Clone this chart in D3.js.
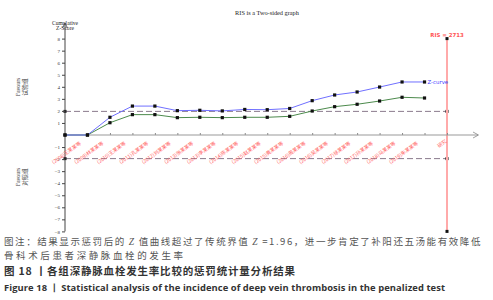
<!DOCTYPE html>
<html>
<head>
<meta charset="utf-8">
<script src="https://cdn.jsdelivr.net/npm/d3@7"></script>
<style>
  body { margin: 0; background: #fff; }
  svg { display: block; }
</style>
</head>
<body>
<div id="chart"></div>
<script>
// study labels along the x axis (index 1..16), last column label at RIS
const studyLabels = ["(2008)王某某等", "(2009)林某某等", "(2010)王某某等", "(2011)孔某某等",
    "(2012)刘某某等", "(2013)张某某等", "(2013)李某某等", "(2014)陈某某等",
    "(2015)赵某某等", "(2015)黄某某等", "(2016)周某某等", "(2016)吴某某等",
    "(2017)徐某某等", "(2017)孙某某等", "(2018)马某某等", "(2019)朱某某等"];
const lastLabel = "研究";

// cumulative z-curve values, index 0 = origin
const zCurve = [0, 0, 1.47, 2.4, 2.4, 2.02, 2.05, 2.0, 2.12, 2.1, 2.2, 2.85, 3.32, 3.57, 3.98, 4.4, 4.4];
const penalized = [0, 0, 1.02, 1.69, 1.69, 1.44, 1.47, 1.44, 1.47, 1.47, 1.55, 1.99, 2.35, 2.55, 2.82, 3.13, 3.07];

const risIndex = 17;
const risLabel = "RIS = 2713";
const boundary = 1.96;
const yTicks = [-8, -7, -6, -5, -4, -3, -2, -1, 1, 2, 3, 4, 5, 6, 7, 8];

// caption pieces: [text, italic]
const captionLine1 = [["图注：结果显示惩罚后的", false], ["Z", true], ["值曲线超过了传统界值", false],
    ["Z", true], ["=1.96，进一步肯定了补阳还五汤能有效降低", false]];
const captionLine2 = "骨科术后患者深静脉血栓的发生率";
const figTitleCn = "图 18 丨各组深静脉血栓发生率比较的惩罚统计量分析结果";
const figTitleEn = "Figure 18 丨 Statistical analysis of the incidence of deep vein thrombosis in the penalized test";

const width = 493, height = 300;
const svg = d3.select("#chart").append("svg")
    .attr("width", width).attr("height", height);

const x = d3.scaleLinear().domain([0, 17]).range([65, 447]);
const y = d3.scaleLinear().domain([-8, 8]).range([231.4, 38.6]);
const serif = "'Liberation Serif', 'DejaVu Serif', serif";

// title
svg.append("text")
    .attr("x", 267).attr("y", 14.5)
    .attr("text-anchor", "middle")
    .style("font-family", serif).style("font-size", "6.3px").style("fill", "#222")
    .text("RIS is a Two-sided graph");

// y axis title
svg.append("text")
    .attr("x", 65).attr("y", 24.5)
    .attr("text-anchor", "middle")
    .style("font-family", serif).style("font-size", "5.6px").style("fill", "#222")
    .selectAll("tspan").data(["Cumulative", "Z-Score"]).join("tspan")
    .attr("x", 65).attr("dy", (d, i) => i ? 5.5 : 0)
    .text(d => d);

// favours labels
[["Favours", "试验组", 87], ["Favours", "对照组", 177]].forEach(([a, b, cy]) => {
    const g = svg.append("g").attr("transform", `translate(20,${cy}) rotate(-90)`);
    g.append("text").attr("text-anchor", "middle").attr("y", 0)
        .style("font-family", serif).style("font-size", "5.8px").style("fill", "#444").text(a);
    g.append("text").attr("text-anchor", "middle").attr("y", 7)
        .style("font-family", "'Noto Sans CJK SC'").style("font-size", "5.8px").style("fill", "#444").text(b);
});

// boundaries
[boundary, -boundary].forEach(v => {
    svg.append("line")
        .attr("x1", x(0)).attr("x2", x(risIndex))
        .attr("y1", y(v)).attr("y2", y(v))
        .attr("stroke", "#8a7a8c").attr("stroke-width", 1)
        .attr("stroke-dasharray", "6,3");
    [0, risIndex].forEach(i => {
        svg.append("rect")
            .attr("x", x(i) - 1.5).attr("y", y(v) - 1.5)
            .attr("width", 3).attr("height", 3).attr("fill", "#111");
    });
});

// RIS line
svg.append("line")
    .attr("x1", x(risIndex)).attr("x2", x(risIndex))
    .attr("y1", y(8)).attr("y2", y(-8))
    .attr("stroke", "#ffaaaa").attr("stroke-width", 2);
[8, -8].forEach(v => {
    svg.append("rect")
        .attr("x", x(risIndex) - 1.5).attr("y", y(v) - 1.5)
        .attr("width", 3).attr("height", 3).attr("fill", "#111");
});
svg.append("text")
    .attr("x", x(risIndex)).attr("y", 36.5)
    .attr("text-anchor", "middle")
    .style("font-family", "'DejaVu Sans', sans-serif").style("font-size", "5.4px")
    .style("font-weight", "bold").style("fill", "#ff5555")
    .text(risLabel);

// y axis
const yAxis = svg.append("g")
    .attr("transform", `translate(${x(0)},0)`)
    .call(d3.axisLeft(y).tickValues(yTicks).tickSize(3).tickSizeOuter(0)
        .tickFormat(d => d < 0 ? "\u2212" + Math.abs(d) : d));
yAxis.select(".domain").remove();
yAxis.selectAll("line").attr("stroke", "#444");
yAxis.selectAll("text").attr("x", -5)
    .style("font-family", serif).style("font-size", "5px").style("fill", "#333");
svg.append("line")
    .attr("x1", x(0)).attr("x2", x(0)).attr("y1", y(-8)).attr("y2", 23)
    .attr("stroke", "#444").attr("stroke-width", 1);
svg.append("path")
    .attr("d", `M${x(0) - 2.5},28 L${x(0)},23 L${x(0) + 2.5},28`)
    .attr("fill", "none").attr("stroke", "#444").attr("stroke-width", 0.8);

// x axis
const xAxis = svg.append("g")
    .attr("transform", `translate(0,${y(0)})`)
    .call(d3.axisTop(x).tickValues(d3.range(1, risIndex + 1)).tickSize(2).tickSizeOuter(0).tickFormat(""));
xAxis.select(".domain").remove();
xAxis.selectAll("line").attr("stroke", "#888");
svg.append("line")
    .attr("x1", x(0)).attr("x2", 478).attr("y1", y(0)).attr("y2", y(0))
    .attr("stroke", "#999").attr("stroke-width", 1);
svg.append("path")
    .attr("d", `M473,${y(0) - 3} L478.5,${y(0)} L473,${y(0) + 3}`)
    .attr("fill", "none").attr("stroke", "#888").attr("stroke-width", 0.8);

// study labels
const labelFont = "'Noto Sans CJK SC', sans-serif";
svg.selectAll(".study").data(studyLabels).join("text")
    .attr("class", "study")
    .attr("text-anchor", "end")
    .attr("transform", (d, i) => `translate(${x(i + 1) - 6},${y(0) + 9}) rotate(-36)`)
    .style("font-family", labelFont).style("font-size", "5px")
    .style("fill", "#ff5c5c")
    .text(d => d);
svg.append("text")
    .attr("text-anchor", "end")
    .attr("transform", `translate(${x(risIndex)},${y(0) + 7}) rotate(-36)`)
    .style("font-family", labelFont).style("font-size", "5px")
    .style("fill", "#ff5c5c")
    .text(lastLabel);

// curves
const line = d3.line().x((d, i) => x(i)).y(d => y(d));
svg.append("path").datum(penalized)
    .attr("d", line).attr("fill", "none")
    .attr("stroke", "#4c8a4c").attr("stroke-width", 1);
svg.append("path").datum(zCurve)
    .attr("d", line).attr("fill", "none")
    .attr("stroke", "#7070ff").attr("stroke-width", 1);

[zCurve, penalized].forEach(series => {
    svg.append("g").selectAll("rect").data(series).join("rect")
        .attr("x", (d, i) => x(i) - 1.6).attr("y", d => y(d) - 1.6)
        .attr("width", 3.2).attr("height", 3.2).attr("fill", "#111");
});

svg.append("text")
    .attr("x", x(zCurve.length - 1) + 3).attr("y", y(zCurve[zCurve.length - 1]) + 2)
    .style("font-family", "'DejaVu Sans', sans-serif").style("font-size", "5.4px")
    .style("fill", "#4444ff")
    .text("Z-curve");

// caption line 1: separate pieces laid out left to right, spread to the full width
const cjk = "'Noto Sans CJK SC', 'Noto Sans', sans-serif";
const cap1Width = 478, cap1Gap = 3;
const pieces = captionLine1.map(([t, it]) => svg.append("text")
    .attr("y", 245)
    .style("font-family", it ? "'Liberation Serif', serif" : cjk)
    .style("font-style", it ? "italic" : "normal")
    .style("font-size", "9.5px").style("fill", "#555")
    .text(t));
const natural = pieces.reduce((s, p) => s + p.node().getComputedTextLength(), 0);
const nChars = captionLine1.reduce((s, d) => s + d[0].length, 0);
const ls = (cap1Width - natural - cap1Gap * 2 * 2) / nChars;
let cx = 4;
pieces.forEach((p, i) => {
    const it = captionLine1[i][1];
    if (it) cx += cap1Gap;
    p.attr("x", cx).style("letter-spacing", ls + "px");
    cx += p.node().getComputedTextLength();
    if (it) cx += cap1Gap;
});

svg.append("text")
    .attr("x", 4).attr("y", 259)
    .attr("textLength", 179).attr("lengthAdjust", "spacing")
    .style("font-family", cjk).style("font-size", "9.5px").style("fill", "#555")
    .text(captionLine2);

svg.append("text")
    .attr("x", 4).attr("y", 274.5)
    .attr("textLength", 291).attr("lengthAdjust", "spacing")
    .style("font-family", cjk).style("font-size", "10.5px")
    .style("font-weight", "bold").style("fill", "#333")
    .text(figTitleCn);

svg.append("text")
    .attr("x", 4).attr("y", 290.5)
    .attr("textLength", 441).attr("lengthAdjust", "spacing")
    .style("font-family", "'Open Sans', 'Noto Sans', sans-serif").style("font-size", "9.4px")
    .style("font-weight", "bold").style("fill", "#333")
    .text(figTitleEn);
</script>
</body>
</html>
